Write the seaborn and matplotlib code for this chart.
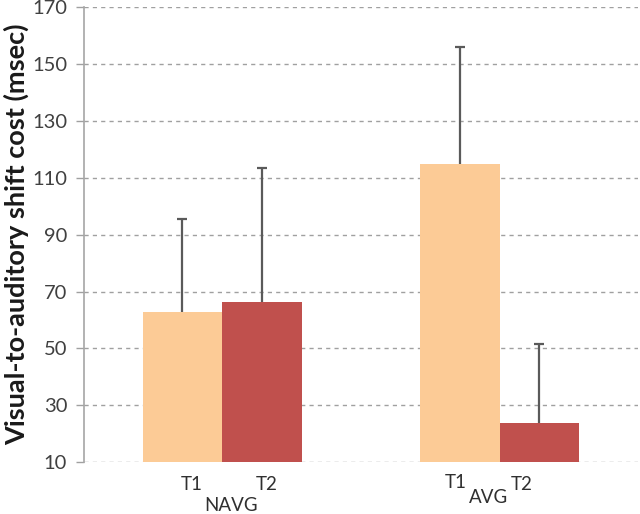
import matplotlib
matplotlib.use("Agg")
import matplotlib.pyplot as plt
import matplotlib.transforms as mtransforms
import seaborn as sns
import pandas as pd
import numpy as np

groups = ["NAVG", "NAVG", "AVG", "AVG"]
times = ["T1", "T2", "T1", "T2"]
means = [62.7, 66.2, 114.7, 23.8]
sds = [32.7, 47.3, 41.3, 27.8]
yticks = [10, 30, 50, 70, 90, 110, 130, 150, 170]

df = pd.DataFrame({"group": groups, "time": times, "mean": means, "sd": sds})

sns.set_theme(style="white")
plt.rcParams["font.family"] = ["Lato", "DejaVu Sans"]

fig = plt.figure(figsize=(6.4, 5.14), dpi=100)
ax = fig.add_axes([0.131, 0.101, 0.866, 0.885])

palette = {"T1": "#FCCB96", "T2": "#C0504D"}
sns.barplot(data=df, x="group", y="mean", hue="time", order=["NAVG", "AVG"],
            hue_order=["T1", "T2"], palette=palette, width=0.576, saturation=1,
            errorbar=None, legend=False, ax=ax, zorder=2, linewidth=0)

# error bars (upward only), positioned from the drawn bars
xs, ys, es, labs = [], [], [], []
for patch in ax.patches:
    if patch.get_width() <= 0:
        continue
    xs.append(patch.get_x() + patch.get_width() / 2)
    ys.append(patch.get_height())
for h in ys:
    i = int(np.argmin([abs(h - m) for m in means]))
    es.append(sds[i])
    labs.append(times[i])
tops = [h + e for h, e in zip(ys, es)]
ax.vlines(xs, ys, tops, colors="#5a5a5a", linewidth=1.6, zorder=3)
ax.scatter(xs, tops, marker="_", s=60, color="#5a5a5a", linewidths=1.6, zorder=3)

ax.set_ylim(10, 170)
ax.set_xlim(-0.5, 1.5)
ax.set_yticks(yticks)
ax.set_yticklabels([str(t) for t in yticks], fontsize=14.5, color="#404040")
ax.yaxis.grid(True, linestyle=(0, (3, 3)), color="#a0a0a0", linewidth=1, zorder=0)
ax.set_axisbelow(True)

order = np.argsort(xs)
xs_sorted = [xs[i] for i in order]
labs_sorted = [labs[i] for i in order]
ax.set_xticks(xs_sorted)
ax.set_xticklabels(labs_sorted, fontsize=13.5, color="#303030")
ax.tick_params(axis="x", length=0, pad=10)
ax.tick_params(axis="y", length=6, width=1, color="#a0a0a0", direction="out",
               left=True, pad=6)

# Excel-like label placement nudges (pixels)
nudges = [(9, 0), (4, 0), (-4, 2), (-18, 0)]
for lbl, (dx, dy) in zip(ax.get_xticklabels(), nudges):
    lbl.set_transform(lbl.get_transform() +
                      mtransforms.ScaledTranslation(dx / 100, dy / 100, fig.dpi_scale_trans))

for s in ["top", "right", "bottom"]:
    ax.spines[s].set_visible(False)
ax.spines["left"].set_color("#a6a6a6")
ax.spines["left"].set_linewidth(1.2)

ax.set_xlabel("")
ax.set_ylabel("Visual-to-auditory shift cost (msec)", fontsize=19.5,
              fontweight="bold", color="#1a1a1a", labelpad=2)

ax.text(0.033, -0.095, "NAVG", transform=ax.get_xaxis_transform(),
        ha="center", va="center", fontsize=13.5, color="#303030")
ax.text(0.96, -0.078, "AVG", transform=ax.get_xaxis_transform(),
        ha="center", va="center", fontsize=13.5, color="#303030")

fig.savefig("out.png", dpi=100)
